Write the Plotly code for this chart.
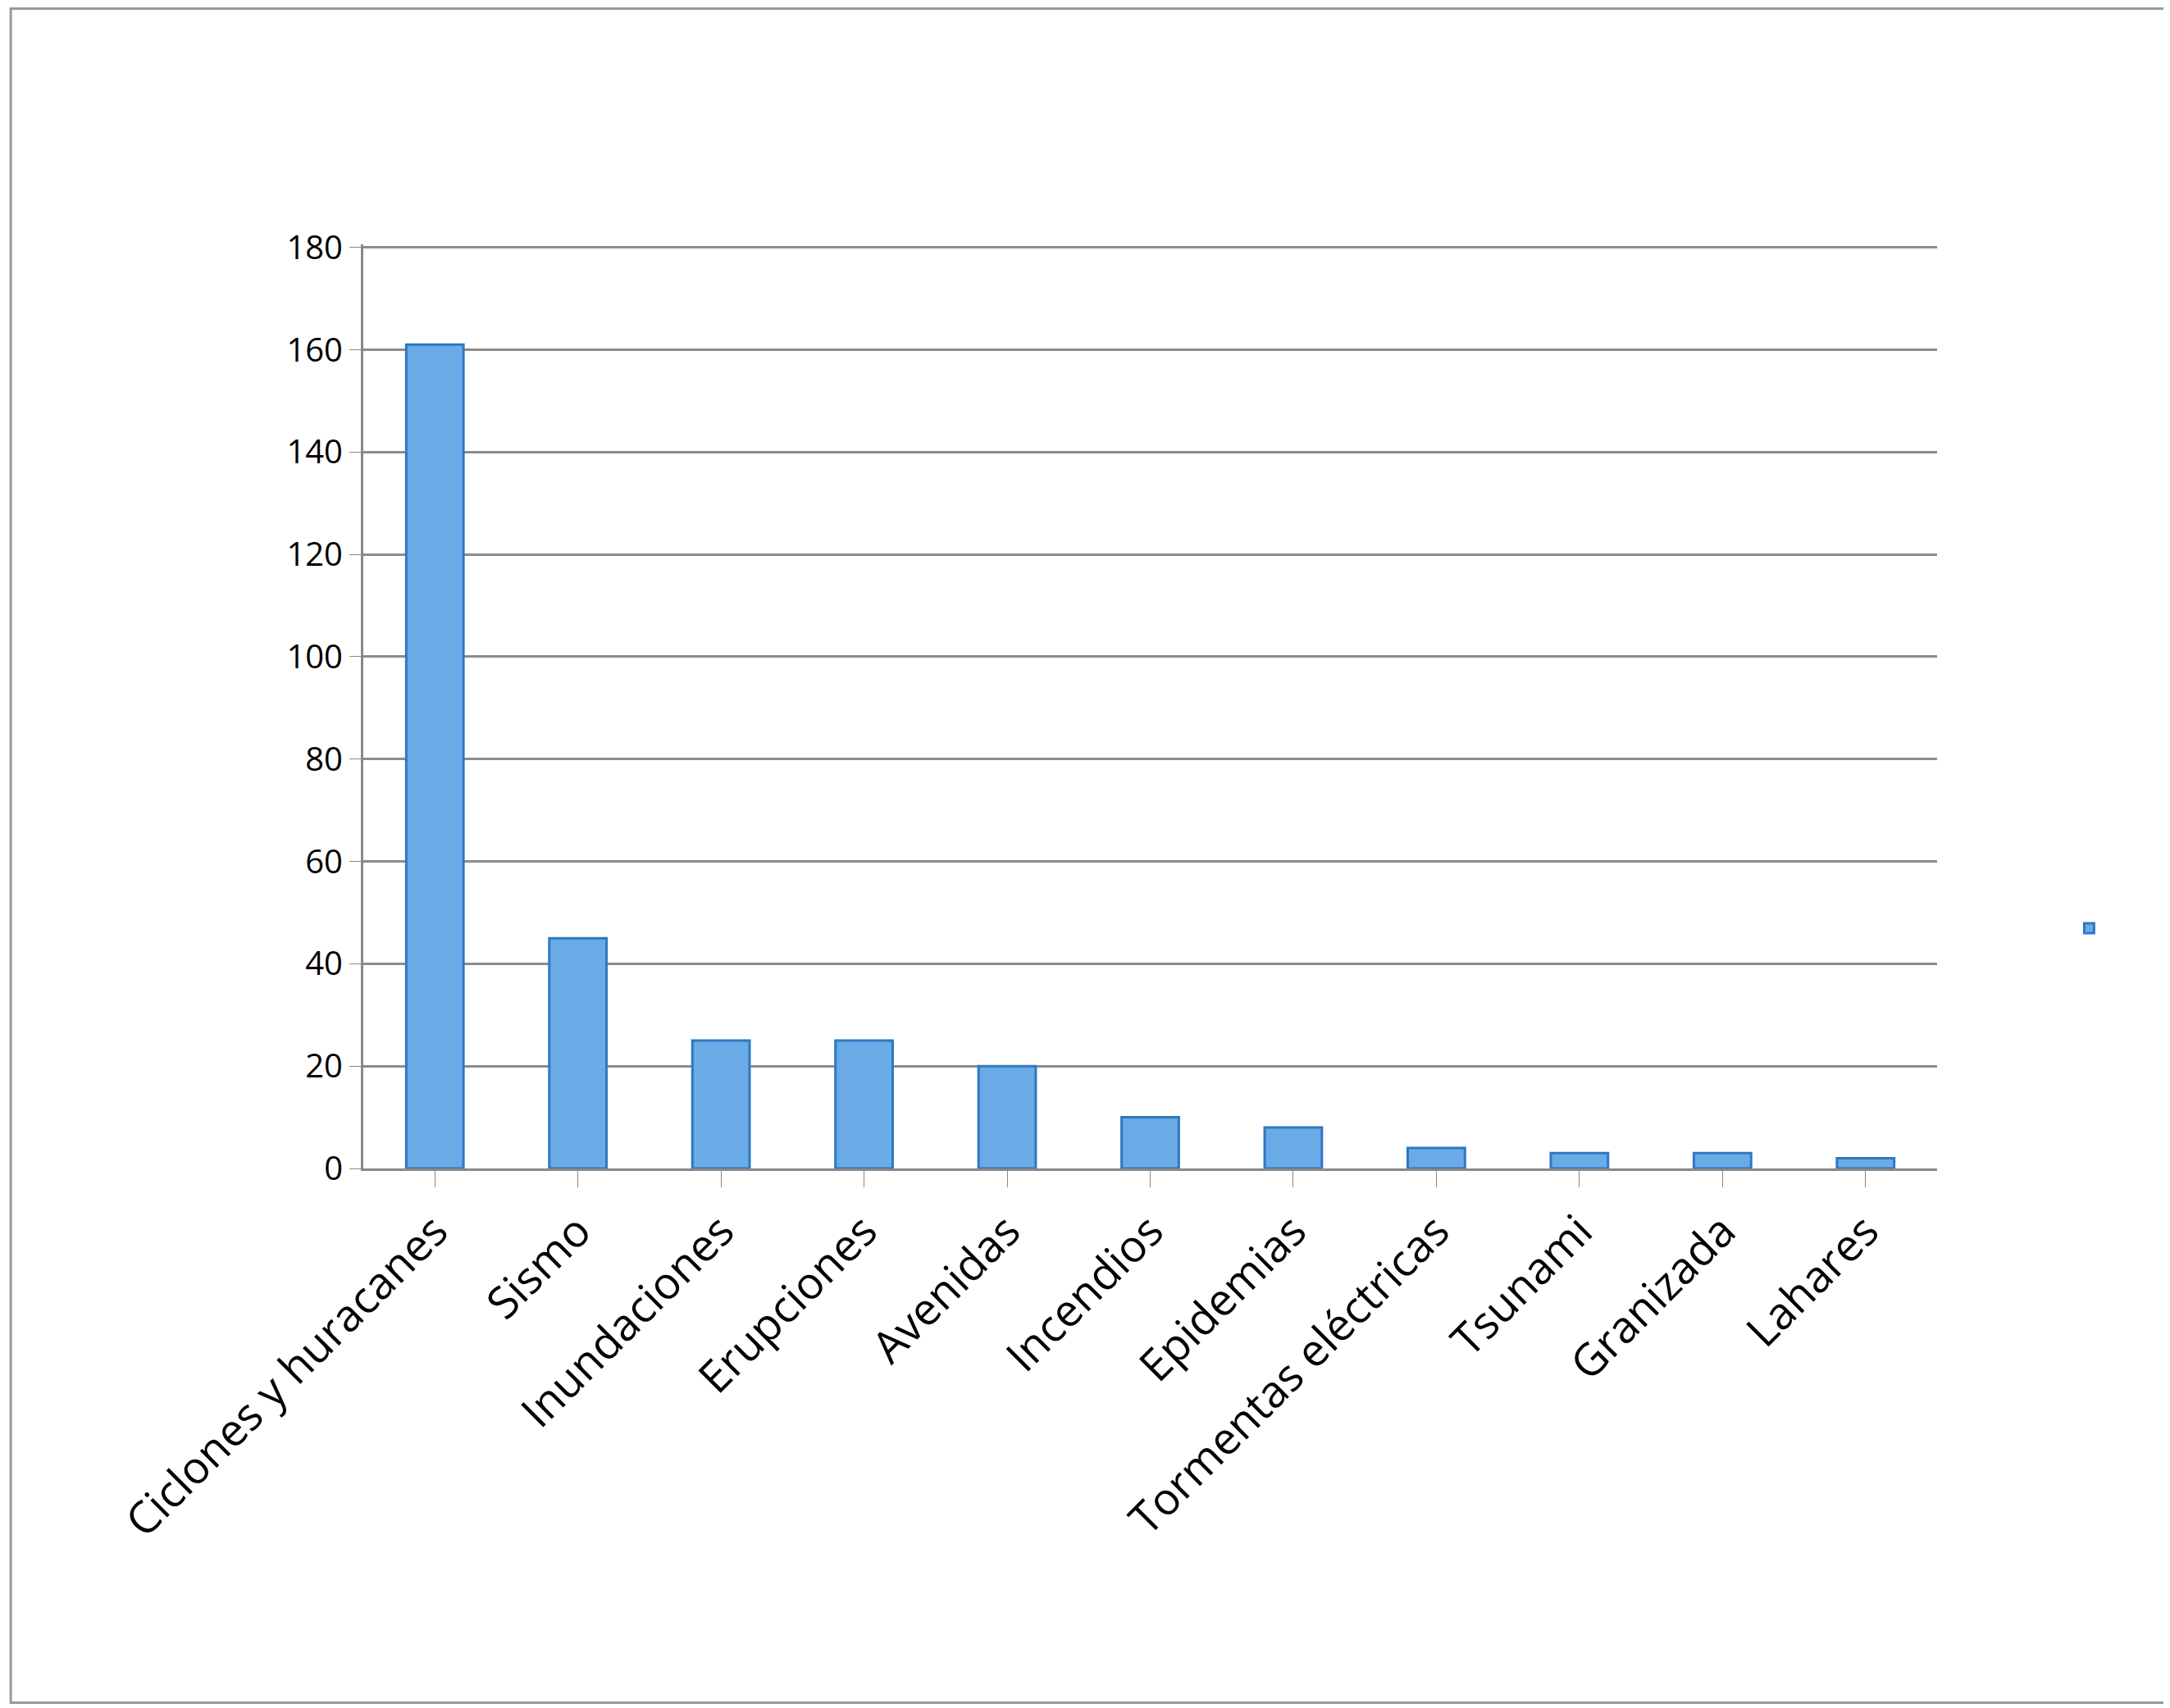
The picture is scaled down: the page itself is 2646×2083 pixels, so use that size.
import plotly.graph_objects as go

categorias = ["Ciclones y huracanes", "Sismo", "Inundaciones", "Erupciones", "Avenidas",
              "Incendios", "Epidemias", "Tormentas eléctricas", "Tsunami", "Granizada", "Lahares"]
valores = [161, 45, 25, 25, 20, 10, 8, 4, 3, 3, 2]
y_ticks = [0, 20, 40, 60, 80, 100, 120, 140, 160, 180]

fig = go.Figure()
fig.add_trace(go.Bar(
    x=categorias, y=valores, name=" ", width=0.4,
    marker=dict(color="#6aaae6", line=dict(color="#2f78c4", width=3)),
))

fig.update_layout(
    width=2646, height=2083,
    paper_bgcolor="white", plot_bgcolor="white",
    margin=dict(l=435, r=292, t=290, b=666),
    font=dict(family="Open Sans", color="black"),
    showlegend=True,
    legend=dict(x=1.10, y=0.26, xanchor="center", yanchor="middle", font=dict(size=30)),
    bargap=0.6,
    xaxis=dict(tickangle=-45, tickfont=dict(size=54), showline=True, linecolor="#888888",
               linewidth=3, ticks="outside", ticklen=20, tickcolor="#888888"),
    yaxis=dict(range=[0, 180.6], tickvals=y_ticks, tickfont=dict(size=40), showgrid=True,
               gridcolor="#8c8c8c", gridwidth=3, showline=True, linecolor="#888888",
               linewidth=3, ticks="outside", ticklen=14, tickcolor="#888888", zeroline=False),
    shapes=[dict(type="rect", xref="paper", yref="paper", x0=-0.224, x1=1.149, y0=-0.578, y1=1.255,
                 line=dict(color="#999999", width=3))],
)

fig.write_html("out.html")
